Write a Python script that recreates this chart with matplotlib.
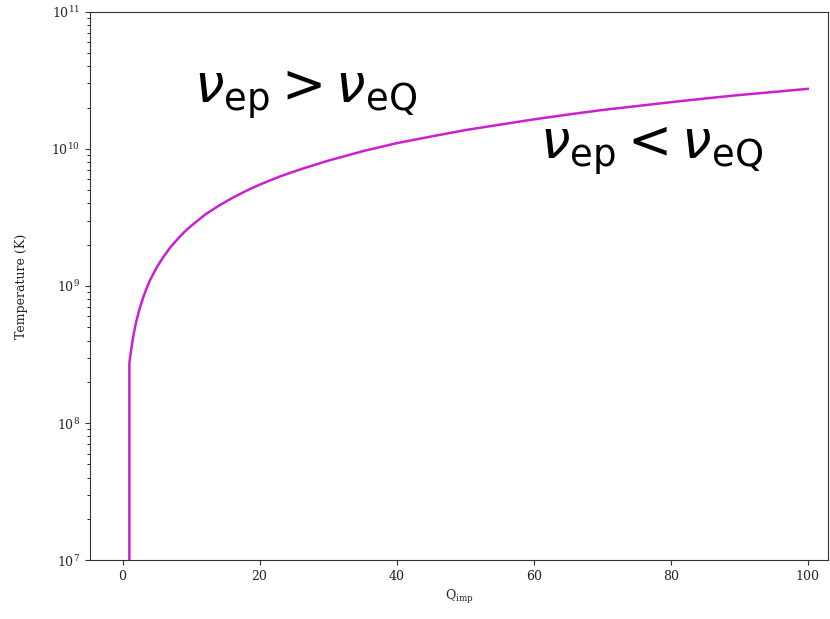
import numpy as np
import matplotlib
matplotlib.use("Agg")
import matplotlib.pyplot as plt

plt.rcParams['font.family'] = 'DejaVu Serif'
plt.rcParams['mathtext.fontset'] = 'dejavuserif'

# impurity charge vs. crossover temperature
q_imp = [1, 1, 1.25, 1.5, 1.75, 2, 2.5, 3, 3.5, 4, 5, 6, 7, 8, 9, 10,
         12, 14, 16, 18, 20, 23, 26, 30, 35, 40, 45, 50, 55, 60, 65,
         70, 75, 80, 85, 90, 95, 100]
temp = [1e6, 2.74e8, 3.4e8, 4.1e8, 4.8e8, 5.5e8, 6.85e8, 8.2e8, 9.6e8,
        1.1e9, 1.37e9, 1.64e9, 1.92e9, 2.19e9, 2.47e9, 2.74e9,
        3.3e9, 3.84e9, 4.38e9, 4.93e9, 5.48e9, 6.3e9, 7.1e9, 8.2e9,
        9.6e9, 1.1e10, 1.23e10, 1.37e10, 1.5e10, 1.64e10, 1.78e10,
        1.92e10, 2.05e10, 2.19e10, 2.33e10, 2.47e10, 2.6e10, 2.74e10]

fig = plt.figure(figsize=(8.3, 6.19), dpi=100)
ax = fig.add_axes([0.108, 0.095, 0.89, 0.886])

ax.plot(q_imp, temp, color='#cc1fd0', lw=1.8)
ax.set_yscale('log')
ax.set_ylim(1e7, 1e11)
ax.set_xlim(-4.8, 103)
ax.set_xticks([0, 20, 40, 60, 80, 100])
for s in ax.spines.values():
    s.set_color('#333333')

ax.set_xlabel(r'$\mathrm{Q_{imp}}$', fontsize=9, color='#222222')
ax.set_ylabel('Temperature (K)', fontsize=9, color='#222222', labelpad=17)
ax.tick_params(labelsize=9, colors='#333333', labelcolor='#222222')

ax.text(10.5, 2.45e10, r'$\nu_{\mathrm{ep}} > \nu_{\mathrm{eQ}}$', fontsize=38,
        math_fontfamily='dejavusans', va='center')
ax.text(60.9, 0.95e10, r'$\nu_{\mathrm{ep}} < \nu_{\mathrm{eQ}}$', fontsize=38,
        math_fontfamily='dejavusans', va='center')

fig.savefig('out.png', dpi=100)
